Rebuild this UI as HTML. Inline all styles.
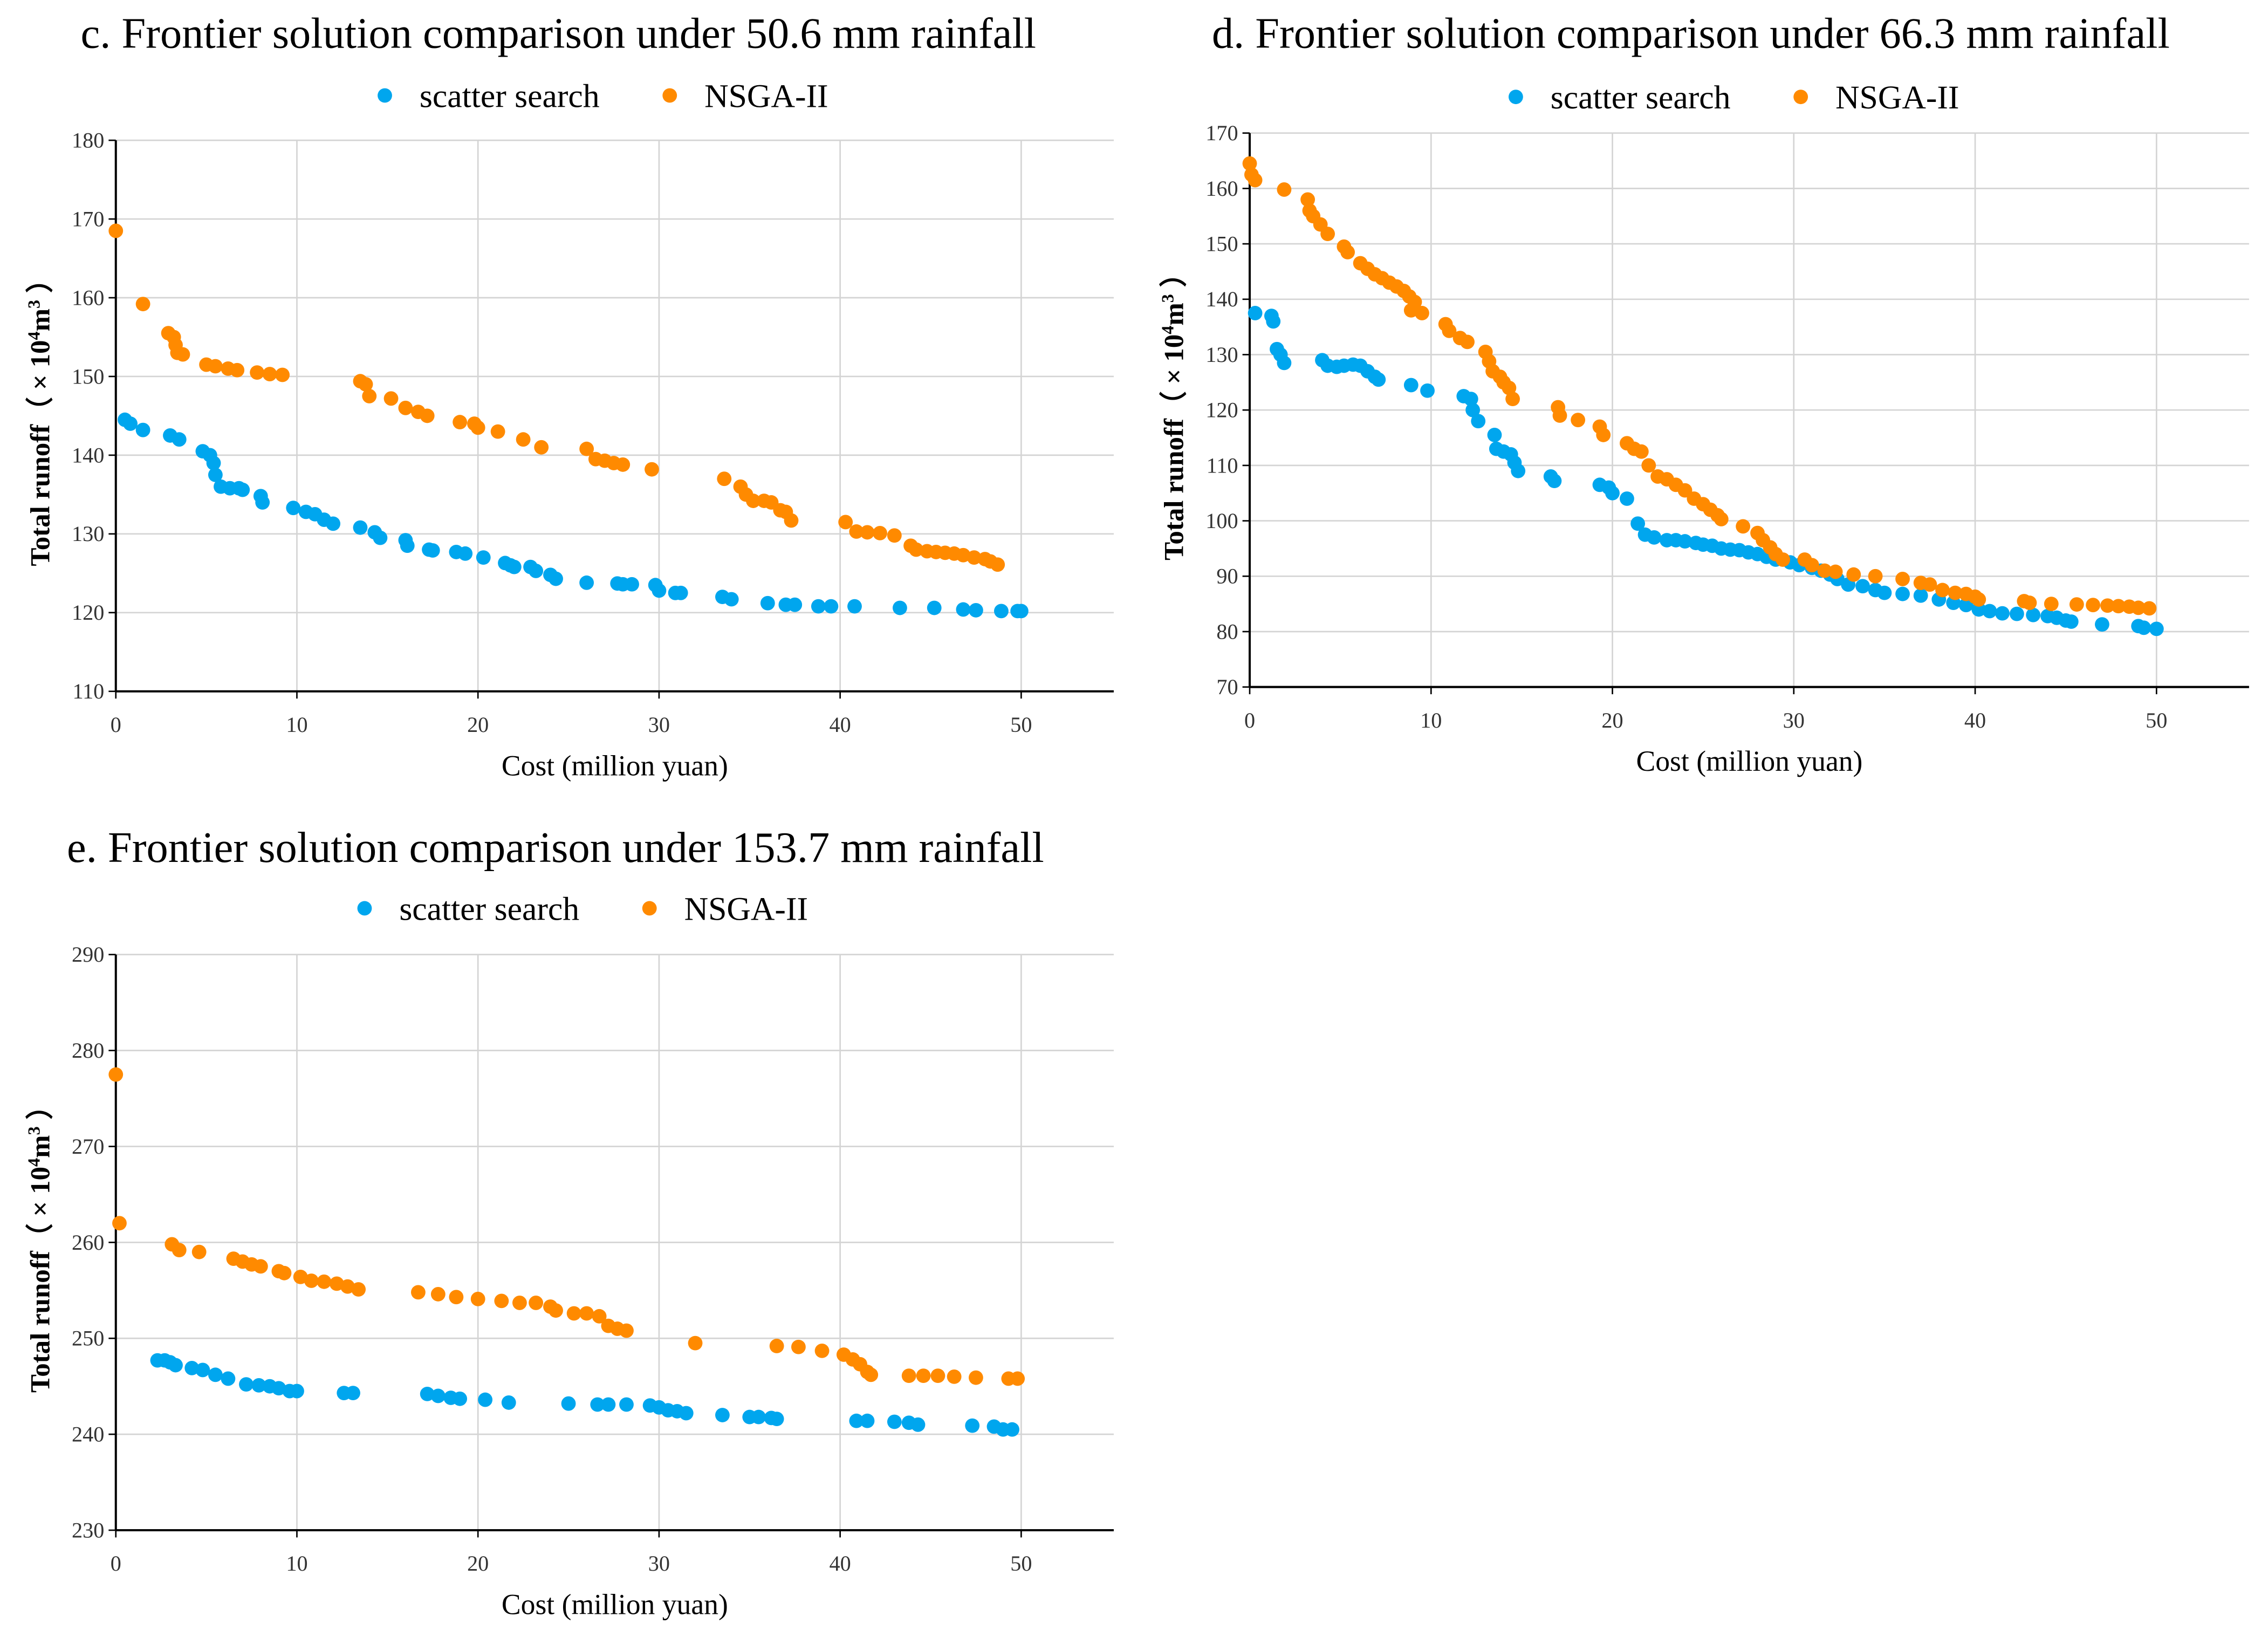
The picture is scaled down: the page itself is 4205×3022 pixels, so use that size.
<!DOCTYPE html>
<html><head><meta charset="utf-8">
<style>
html,body{margin:0;padding:0;background:#fff;}
svg{display:block;font-family:"Liberation Serif",serif;}
</style></head>
<body>
<svg id="fig" width="4205" height="3022" viewBox="0 0 1568 1127" xmlns="http://www.w3.org/2000/svg"></svg>
<script>
const cSS_x=[0.5,0.8,1.5,3,3.5,4.8,5.2,5.4,5.5,5.8,6.3,6.8,7,8,8.1,9.8,10.5,11,11.5,12,13.5,14.3,14.6,16,16.1,17.3,17.5,18.8,19.3,20.3,21.5,21.8,22,22.9,23.2,24,24.3,26,27.7,28,28.5,29.8,30,30.9,31.2,33.5,34,36,37,37.5,38.8,39.5,40.8,43.3,45.2,46.8,47.5,48.9,49.8,50];
const cSS_y=[144.5,144,143.2,142.5,142,140.5,140,139,137.5,136,135.8,135.8,135.6,134.8,134,133.3,132.8,132.5,131.8,131.3,130.8,130.2,129.5,129.2,128.5,128,127.9,127.7,127.5,127,126.3,126,125.8,125.8,125.3,124.8,124.3,123.8,123.7,123.6,123.6,123.5,122.8,122.5,122.5,122,121.7,121.2,121,121,120.8,120.8,120.8,120.6,120.6,120.4,120.3,120.2,120.2,120.2];
const cNS_x=[0,1.5,2.9,3.2,3.3,3.4,3.7,5,5.5,6.2,6.7,7.8,8.5,9.2,13.5,13.8,14,15.2,16,16.7,17.2,19,19.8,20,21.1,22.5,23.5,26,26.5,27,27.5,28,29.6,33.6,34.5,34.8,35.2,35.8,36.2,36.7,37,37.3,40.3,40.9,41.5,42.2,43,43.9,44.2,44.8,45.3,45.8,46.3,46.8,47.4,48,48.3,48.7];
const cNS_y=[168.5,159.2,155.5,155,154,153,152.8,151.5,151.3,151,150.8,150.5,150.3,150.2,149.4,149,147.5,147.2,146,145.5,145,144.2,144,143.5,143,142,141,140.8,139.5,139.3,139,138.8,138.2,137,136,135,134.2,134.2,134,133,132.8,131.7,131.5,130.3,130.2,130.1,129.8,128.5,128,127.8,127.7,127.6,127.5,127.3,127,126.8,126.5,126.1];
const dSS_x=[0.3,1.2,1.3,1.5,1.7,1.9,4,4.3,4.8,5.2,5.7,6.1,6.5,6.9,7.1,8.9,9.8,11.8,12.2,12.3,12.6,13.5,13.6,14,14.4,14.6,14.8,16.6,16.8,19.3,19.8,20,20.8,21.4,21.8,22.3,23,23.5,24,24.6,25,25.5,26,26.5,27,27.5,28,28.5,29,29.8,30.3,31,31.5,32,32.4,33,33.8,34.5,35,36,37,38,38.8,39.5,40.2,40.8,41.5,42.3,43.2,44,44.5,45,45.3,47,49,49.3,50];
const dSS_y=[137.5,137,136,131,130,128.5,129,128,127.8,128,128.2,128,127,126,125.5,124.5,123.5,122.5,122,120,118,115.5,113,112.5,112,110.5,109,108,107.2,106.5,106,105,104,99.5,97.5,97,96.5,96.5,96.3,96,95.7,95.5,95,94.8,94.7,94.3,94,93.5,93,92.5,92,91.5,91,90.3,89.5,88.5,88.2,87.5,87,86.8,86.5,85.8,85.2,84.8,84,83.7,83.3,83.2,83,82.8,82.5,82,81.8,81.3,81,80.7,80.5];
const dNS_x=[0,0.1,0.3,1.9,3.2,3.3,3.5,3.9,4.3,5.2,5.4,6.1,6.5,6.9,7.3,7.7,8.1,8.5,8.8,9.1,8.9,9.5,10.8,11,11.6,12,13,13.2,13.4,13.8,14,14.3,14.5,17,17.1,18.1,19.3,19.5,20.8,21.2,21.6,22,22.5,23,23.5,24,24.5,25,25.4,25.8,26,27.2,28,28.3,28.7,29,29.4,30.6,31,31.7,32.3,33.3,34.5,36,37,37.5,38.2,38.9,39.5,40,40.2,42.7,43,44.2,45.6,46.5,47.3,47.9,48.5,49,49.6];
const dNS_y=[164.5,162.5,161.5,159.8,158,156,155,153.5,151.8,149.5,148.5,146.5,145.5,144.5,143.8,143,142.3,141.5,140.5,139.5,138,137.5,135.5,134.3,133,132.3,130.5,128.8,127,126,125,124,122,120.5,119,118.2,117,115.5,114,113,112.5,110,108,107.5,106.5,105.5,104,103,102,101,100.3,99,97.8,96.5,95.2,94,93,93,92,91,90.8,90.3,90,89.5,88.8,88.5,87.5,87,86.8,86.3,85.8,85.5,85.2,85,84.9,84.8,84.7,84.6,84.5,84.3,84.2];
const eSS_x=[2.3,2.7,3,3.3,4.2,4.8,5.5,6.2,7.2,7.9,8.5,9,9.6,10,12.6,13.1,17.2,17.8,18.5,19,20.4,21.7,25,26.6,27.2,28.2,29.5,30,30.5,31,31.5,33.5,35,35.5,36.2,36.5,40.9,41.5,43,43.8,44.3,47.3,48.5,49,49.5];
const eSS_y=[247.7,247.7,247.5,247.2,246.9,246.7,246.2,245.8,245.2,245.1,245,244.8,244.5,244.5,244.3,244.3,244.2,244,243.8,243.7,243.6,243.3,243.2,243.1,243.1,243.1,243,242.8,242.5,242.4,242.2,242,241.8,241.8,241.7,241.6,241.4,241.4,241.3,241.2,241,240.9,240.8,240.5,240.5];
const eNS_x=[0,0.2,3.1,3.5,4.6,6.5,7,7.5,8,9,9.3,10.2,10.8,11.5,12.2,12.8,13.4,16.7,17.8,18.8,20,21.3,22.3,23.2,24,24.3,25.3,26,26.7,27.2,27.7,28.2,32,36.5,37.7,39,40.2,40.7,41.1,41.5,41.7,43.8,44.6,45.4,46.3,47.5,49.3,49.8];
const eNS_y=[277.5,262,259.8,259.2,259,258.3,258,257.7,257.5,257,256.8,256.4,256,255.9,255.7,255.4,255.1,254.8,254.6,254.3,254.1,253.9,253.7,253.7,253.3,252.9,252.6,252.6,252.3,251.3,251,250.8,249.5,249.2,249.1,248.7,248.3,247.8,247.3,246.5,246.2,246.1,246.1,246.1,246,245.9,245.8,245.8];
const xTicks=[0,10,20,30,40,50];
const cYTicks=[110,120,130,140,150,160,170,180];
const dYTicks=[70,80,90,100,110,120,130,140,150,160,170];
const eYTicks=[230,240,250,260,270,280,290];

const NS='http://www.w3.org/2000/svg';
const svg=document.getElementById('fig');
function mk(tag,attrs,parent){const e=document.createElementNS(NS,tag);for(const k in attrs)e.setAttribute(k,attrs[k]);(parent||svg).appendChild(e);return e;}
const BLUE='#00A6EE',ORANGE='#FF8A00';
function chart(key,cfg){
  const g=mk('g',{});
  
  
  const sx=v=>cfg.x0+(v-0)*(cfg.x50-cfg.x0)/50;
  const sy=v=>cfg.yb+(v-cfg.ymin)*(cfg.yt-cfg.yb)/(cfg.ymax-cfg.ymin);
  const t=mk('text',{x:cfg.tx,y:cfg.ty,'font-size':30,'text-anchor':'middle'},g);t.textContent=cfg.title;
  
  
  const lg=mk('g',{},g);
  
  
  mk('circle',{cx:cfg.lx,cy:cfg.ly,r:5,fill:BLUE},lg);
  const l1=mk('text',{x:cfg.lx+24,y:cfg.ly+8,'font-size':23},lg);l1.textContent='scatter search';
  mk('circle',{cx:cfg.lx+197,cy:cfg.ly,r:5,fill:ORANGE},lg);
  const l2=mk('text',{x:cfg.lx+221,y:cfg.ly+8,'font-size':23},lg);l2.textContent='NSGA-II';
  cfg.yTicks.forEach(v=>{
    if(v!==cfg.ymin){const gl=mk('line',{x1:cfg.x0,x2:cfg.xr,y1:sy(v),y2:sy(v),stroke:'#d4d4d4','stroke-width':1},g);
    
    }
    mk('line',{x1:cfg.x0-5,x2:cfg.x0,y1:sy(v),y2:sy(v),stroke:'#000','stroke-width':1},g);
    const tl=mk('text',{x:cfg.x0-8,y:sy(v)+5,'font-size':15,'text-anchor':'end',fill:'#333'},g);tl.textContent=v;
    
    
  });
  xTicks.forEach(v=>{
    if(v!==0){const gl=mk('line',{x1:sx(v),x2:sx(v),y1:cfg.yt,y2:cfg.yb,stroke:'#d4d4d4','stroke-width':1},g);
    
    }
    mk('line',{x1:sx(v),x2:sx(v),y1:cfg.yb,y2:cfg.yb+5,stroke:'#000','stroke-width':1},g);
    const tl=mk('text',{x:sx(v),y:cfg.yb+28,'font-size':15,'text-anchor':'middle',fill:'#333'},g);tl.textContent=v;
    
    
  });
  const ya=mk('line',{x1:cfg.x0,x2:cfg.x0,y1:cfg.yt,y2:cfg.yb,stroke:'#000','stroke-width':1.5},g);
  
  
  const xa=mk('line',{x1:cfg.x0,x2:cfg.xr,y1:cfg.yb,y2:cfg.yb,stroke:'#000','stroke-width':1.5},g);
  
  
  const xt=mk('text',{x:(cfg.x0+cfg.xr)/2,y:cfg.yb+58,'font-size':20,'text-anchor':'middle'},g);xt.textContent='Cost (million yuan)';
  
  
  const cy=(cfg.yt+cfg.yb)/2, cx=cfg.x0-46;
  const yt=mk('text',{x:cx,y:cy,'font-size':19,'font-weight':'bold','text-anchor':'middle',transform:`rotate(-90 ${cx} ${cy})`},g);
  
  
  yt.innerHTML='Total runoff（ × 10<tspan baseline-shift="super" font-size="12">4</tspan>m<tspan baseline-shift="super" font-size="12">3</tspan> ）';
  const series=[[cfg.ssx,cfg.ssy,BLUE,'scatter-search-point'],[cfg.nsx,cfg.nsy,ORANGE,'nsga-ii-point']];
  series.forEach(([xs,ys,col,nm])=>{
    xs.forEach((xv,i)=>{
      const c=mk('circle',{cx:sx(xv),cy:sy(ys[i]),r:5,fill:col},g);
      
      
    });
  });
}
chart('c',{title:'c. Frontier solution comparison under 50.6 mm rainfall',tx:386,ty:33,lx:266,ly:66,x0:80,x50:706,xr:770,yt:97,yb:478,ymin:110,ymax:180,yTicks:cYTicks,ssx:cSS_x,ssy:cSS_y,nsx:cNS_x,nsy:cNS_y});
chart('d',{title:'d. Frontier solution comparison under 66.3 mm rainfall',tx:1169,ty:33,lx:1048,ly:67,x0:864,x50:1491,xr:1555,yt:92,yb:475,ymin:70,ymax:170,yTicks:dYTicks,ssx:dSS_x,ssy:dSS_y,nsx:dNS_x,nsy:dNS_y});
chart('e',{title:'e. Frontier solution comparison under 153.7 mm rainfall',tx:384,ty:596,lx:252,ly:628,x0:80,x50:706,xr:770,yt:660,yb:1058,ymin:230,ymax:290,yTicks:eYTicks,ssx:eSS_x,ssy:eSS_y,nsx:eNS_x,nsy:eNS_y});
</script>
</body></html>
